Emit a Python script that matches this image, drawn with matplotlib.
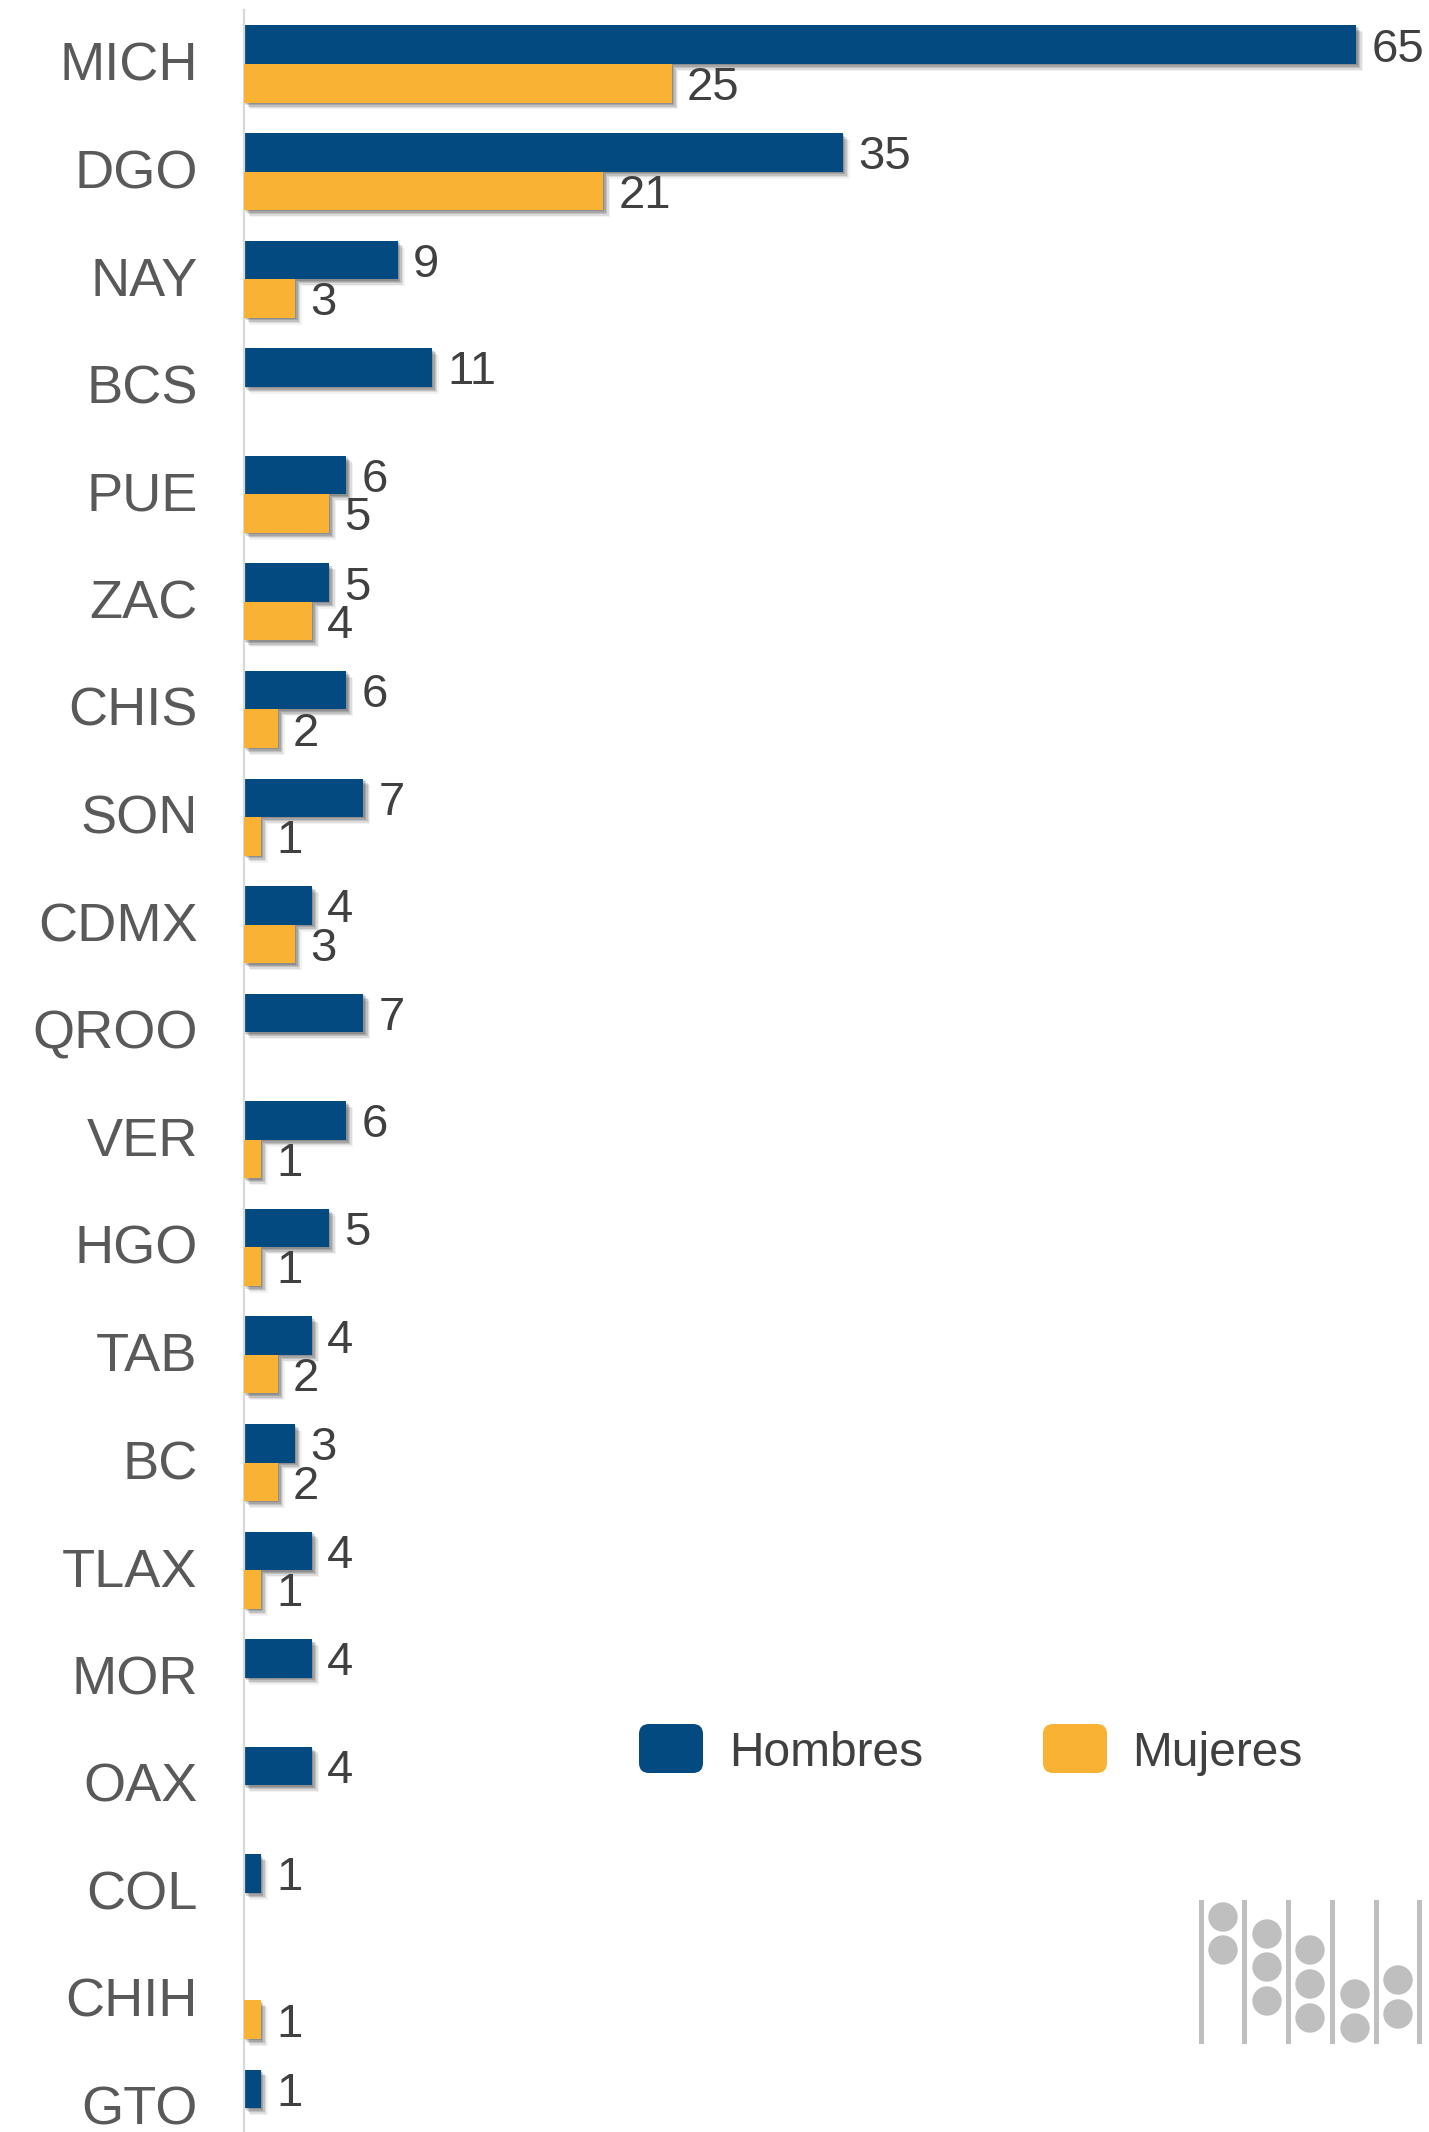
import numpy as np
import matplotlib
matplotlib.use("Agg")
import matplotlib.pyplot as plt
import matplotlib.patheffects as pe
from matplotlib.patches import FancyBboxPatch, Rectangle, Circle
from matplotlib.transforms import ScaledTranslation

estados = ["MICH", "DGO", "NAY", "BCS", "PUE", "ZAC", "CHIS", "SON", "CDMX", "QROO",
           "VER", "HGO", "TAB", "BC", "TLAX", "MOR", "OAX", "COL", "CHIH", "GTO"]
hombres = [65, 35, 9, 11, 6, 5, 6, 7, 4, 7, 6, 5, 4, 3, 4, 4, 4, 1, 0, 1]
mujeres = [25, 21, 3, 0, 5, 4, 2, 1, 3, 0, 1, 1, 2, 2, 1, 0, 0, 0, 1, 0]

AZUL = "#034A80"
NARANJA = "#F9B233"
W, H = 1429, 2132


def px_box(x, y, w, h):
    # pixel box measured from the top left of the picture, to inches
    return x / 100, (H - y - h) / 100, w / 100, h / 100


def sombra():
    capas = []
    for off, a in [(1.0, 0.14), (2.0, 0.14), (3.0, 0.12), (4.0, 0.09), (5.0, 0.05)]:
        capas.append(pe.SimplePatchShadow(offset=(off, -off), shadow_rgbFace="k", alpha=a))
    capas.append(pe.Normal())
    return capas


def main():
    fig = plt.figure(figsize=(W / 100, H / 100), dpi=100)
    plt.rcParams["font.family"] = ["Liberation Sans", "DejaVu Sans"]
    ax = fig.add_axes([243.5 / W, 0, (W - 243.5) / W, (H - 10) / H])

    y = np.arange(len(estados))
    alto = 0.358
    b1 = ax.barh(y - alto / 2, hombres, alto, color=AZUL, zorder=2)
    b2 = ax.barh(y + alto / 2, mujeres, alto, color=NARANJA, zorder=3)
    for b in list(b1) + list(b2):
        b.set_path_effects(sombra())

    for vals, pos in [(hombres, y - alto / 2), (mujeres, y + alto / 2)]:
        for v, p in zip(vals, pos):
            if v:
                ax.annotate(str(v), (v, p), xytext=(11, -3.5), textcoords="offset points",
                            fontsize=34, color="#404040", va="center", ha="left",
                            family="Liberation Sans", zorder=5)

    ax.set_xlim(0, (W - 243.5) / 17.12)
    ax.set_ylim((H - 64) / 107.58, (10 - 64) / 107.58)
    ax.set_yticks(y)
    ax.set_yticklabels(estados, fontsize=39, color="#595959", family="Liberation Sans")
    ax.tick_params(axis="y", length=0, pad=33)
    sube = ScaledTranslation(0, 3 / 100, fig.dpi_scale_trans)
    for t in ax.get_yticklabels():
        t.set_transform(t.get_transform() + sube)
    ax.xaxis.set_visible(False)
    for s in ["top", "right", "bottom"]:
        ax.spines[s].set_visible(False)
    ax.spines["left"].set_color("#D9D9D9")
    ax.spines["left"].set_linewidth(1.6)

    # leyenda
    for x0, col, nombre, xt in [(639, AZUL, "Hombres", 729), (1043, NARANJA, "Mujeres", 1132)]:
        bx, by, bw, bh = px_box(x0 + 7, 1731, 50, 35)
        fig.add_artist(FancyBboxPatch((bx, by), bw, bh, boxstyle="round,pad=0.07,rounding_size=0.1",
                                      transform=fig.dpi_scale_trans, fc=col, ec="none"))
        fig.text(xt / W, 1 - 1754 / H, nombre, fontsize=34.5, color="#404040",
                 family="Liberation Sans", va="center", ha="left")

    # logo abaco
    postes = [1201, 1244, 1288, 1332, 1376, 1419]
    cuentas_x = [1223, 1267, 1310, 1355, 1398]
    cuentas_y = [[1917, 1950], [1934, 1967, 2001], [1950, 1984, 2018], [1994, 2028], [1980, 2014]]
    for xp in postes:
        bx, by, bw, bh = px_box(xp - 2.5, 1900, 5, 144)
        fig.add_artist(Rectangle((bx, by), bw, bh, transform=fig.dpi_scale_trans, fc="#BFBFBF", ec="none"))
    for xc, ys in zip(cuentas_x, cuentas_y):
        for yc in ys:
            fig.add_artist(Circle((xc / 100, (H - yc) / 100), 0.147, transform=fig.dpi_scale_trans,
                                  fc="#BFBFBF", ec="none"))

    fig.savefig("out.png", dpi=100, facecolor="white")
    plt.close(fig)


if __name__ == "__main__":
    main()
